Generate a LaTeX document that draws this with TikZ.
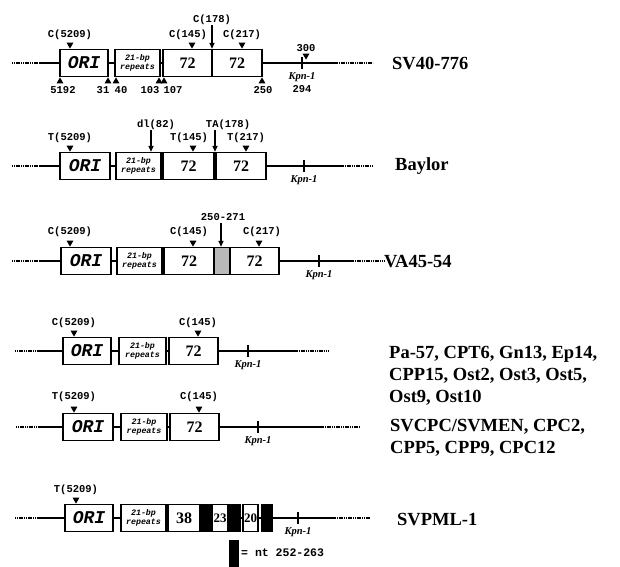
\documentclass[tikz,border=0pt]{standalone}
\usepackage{fontspec}
\setmainfont{Liberation Serif}
\setmonofont{Liberation Mono}
\usepackage{tikz}
\usetikzlibrary{positioning, arrows.meta, shapes.geometric}

\begin{document}
\begin{tikzpicture}[
        x=1pt, y=-1pt,
        seg/.style={draw, line width=1.3pt, fill=white, minimum width=#1, minimum height=27pt, inner sep=0pt},
        ori/.style={seg=#1, font=\ttfamily\bfseries\itshape\fontsize{18}{18}\selectfont},
        rep/.style={seg=#1, align=center, font=\ttfamily\bfseries\itshape\fontsize{8.3}{8.5}\selectfont},
        enh/.style={seg=#1, font=\bfseries\fontsize{16}{16}\selectfont},
        enhs/.style={seg=#1, font=\bfseries\fontsize{13}{13}\selectfont},
        blk/.style={seg=#1, fill=black},
        dots/.style={seg=#1, fill=gray!55},
        dna/.style={line width=1.3pt},
        flank/.style={line width=1.1pt, dash pattern=on 1.2pt off 0.6pt},
        mut/.style={font=\ttfamily\bfseries\fontsize{10.5}{10.5}\selectfont, inner sep=0pt},
        ntnum/.style={font=\ttfamily\bfseries\fontsize{10.5}{10.5}\selectfont, inner sep=0pt},
        kpn/.style={font=\bfseries\itshape\fontsize{10.5}{10.5}\selectfont, inner sep=0pt},
        tdown/.style={regular polygon, regular polygon sides=3, fill, inner sep=0pt, minimum size=8pt, rotate=180, anchor=corner 1},
        tup/.style={regular polygon, regular polygon sides=3, fill, inner sep=0pt, minimum size=8pt, anchor=corner 1},
        hit/.style={-{Triangle[length=6pt, width=5pt]}, line width=1.2pt},
        strain/.style={anchor=west, align=left, inner sep=0pt, font=\bfseries\fontsize{18.5}{22}\selectfont},
    ]
    \useasboundingbox (0,0) rectangle (620,566);

    % SV40-776
    \draw[flank] (12,63) -- (40,63);
    \draw[dna] (40,63) -- (337,63);
    \draw[flank] (337,63) -- (373,63);
    \node[ori=48pt] (aori) at (84,63) {ORI};
    \node[rep=45pt] (arep) at (137.5,63) {21-bp\\repeats};
    \node[enh=49pt] (aenha) at (187.5,63) {72};
    \node[enh=50pt] (aenhb) at (237,63) {72};
    \draw[dna] (302,57) -- (302,69);
    \node[kpn] (akpn) at (302,77) {Kpn-1};
    \node[ntnum] (a294) at (302,89) {294};
    \node[tdown] (at300) at (306,60) {};
    \node[ntnum] (a300) at (306,48) {300};
    \node[mut] (ac5209) at (70,35) {C(5209)};
    \node[tdown] (at5209) at (70,49) {};
    \node[mut] (ac145) at (188,35) {C(145)};
    \node[tdown] (at145) at (192,49) {};
    \node[mut] (ac217) at (242,35) {C(217)};
    \node[tdown] (at217) at (242,49) {};
    \node[mut] (ac178) at (212,20) {C(178)};
    \draw[hit] (ac178.south) -- (ac178.south |- aenhb.north);
    \node[tup] (at5192) at (60,77) {};
    \node[tup] (at31) at (108,77) {};
    \node[tup] (at40) at (116,77) {};
    \node[tup] (at103) at (159,77) {};
    \node[tup] (at107) at (164,77) {};
    \node[tup] (at250) at (262,77) {};
    \node[ntnum] (a5192) at (63,90) {5192};
    \node[ntnum] (a31) at (103,90) {31};
    \node[ntnum] (a40) at (121,90) {40};
    \node[ntnum] (a103) at (150,90) {103};
    \node[ntnum] (a107) at (173,90) {107};
    \node[ntnum] (a250) at (263,90) {250};
    \node[strain] (sv40) at (392,63) {SV40-776};

    % Baylor
    \draw[flank] (12,166) -- (40,166);
    \draw[dna] (40,166) -- (343,166);
    \draw[flank] (343,166) -- (373,166);
    \node[ori=50pt] (bori) at (85,166) {ORI};
    \node[rep=45pt] (brep) at (138.5,166) {21-bp\\repeats};
    \node[enh=51pt] (benha) at (188.5,166) {72};
    \node[enh=50pt] (benhb) at (241,166) {72};
    \draw[dna] (304,160) -- (304,172);
    \node[kpn] (bkpn) at (304,180) {Kpn-1};
    \node[mut] (bt5209) at (70,138) {T(5209)};
    \node[tdown] (btr5209) at (70,152) {};
    \node[mut] (bt145) at (189,138) {T(145)};
    \node[tdown] (btr145) at (193,152) {};
    \node[mut] (bt217) at (246,138) {T(217)};
    \node[tdown] (btr217) at (246,152) {};
    \node[mut] (bdl82) at (156,125) {dl(82)};
    \coordinate (bdl) at (151,130);
    \draw[hit] (bdl) -- (bdl |- brep.north);
    \node[mut] (bta178) at (228,125) {TA(178)};
    \coordinate (bta) at (215,130);
    \draw[hit] (bta) -- (bta |- benhb.north);
    \node[strain] (baylor) at (395,166) {Baylor};

    % VA45-54
    \draw[flank] (12,261) -- (40,261);
    \draw[dna] (40,261) -- (353,261);
    \draw[flank] (353,261) -- (384,261);
    \node[ori=50pt] (cori) at (86,261) {ORI};
    \node[rep=45pt] (crep) at (139.5,261) {21-bp\\repeats};
    \node[enh=50pt] (cenha) at (189,261) {72};
    \node[dots=16pt] (cdup) at (222,261) {};
    \node[enh=49pt] (cenhb) at (254.5,261) {72};
    \draw[dna] (319,255) -- (319,267);
    \node[kpn] (ckpn) at (319,275) {Kpn-1};
    \node[mut] (cc5209) at (70,232) {C(5209)};
    \node[tdown] (ctr5209) at (70,247) {};
    \node[mut] (cc145) at (189,232) {C(145)};
    \node[tdown] (ctr145) at (193,247) {};
    \node[mut] (cc217) at (262,232) {C(217)};
    \node[tdown] (ctr217) at (259,247) {};
    \node[mut] (cdel) at (223,217) {250-271};
    \coordinate (cd) at (221,223);
    \draw[hit] (cd) -- (cd |- cdup.north);
    \node[strain] (va45) at (384,262) {VA45-54};

    % Pa-57 group
    \draw[flank] (15,351) -- (40,351);
    \draw[dna] (40,351) -- (297,351);
    \draw[flank] (297,351) -- (328,351);
    \node[ori=48pt] (dori) at (87,351) {ORI};
    \node[rep=47pt] (drep) at (142.5,351) {21-bp\\repeats};
    \node[enh=49pt] (denh) at (193.5,351) {72};
    \draw[dna] (248,345) -- (248,357);
    \node[kpn] (dkpn) at (248,365) {Kpn-1};
    \node[mut] (dc5209) at (74,323) {C(5209)};
    \node[tdown] (dtr5209) at (74,337) {};
    \node[mut] (dc145) at (198,323) {C(145)};
    \node[tdown] (dtr145) at (198,337) {};
    \node[strain] (pa57) at (389,376) {Pa-57, CPT6, Gn13, Ep14,\\CPP15, Ost2, Ost3, Ost5,\\Ost9, Ost10};

    % SVCPC group
    \draw[flank] (16,427) -- (38,427);
    \draw[dna] (38,427) -- (323,427);
    \draw[flank] (323,427) -- (360,427);
    \node[ori=50pt] (eori) at (88,427) {ORI};
    \node[rep=46pt] (erep) at (144,427) {21-bp\\repeats};
    \node[enh=49pt] (eenh) at (194.5,427) {72};
    \draw[dna] (258,421) -- (258,433);
    \node[kpn] (ekpn) at (258,441) {Kpn-1};
    \node[mut] (et5209) at (74,397) {T(5209)};
    \node[tdown] (etr5209) at (74,413) {};
    \node[mut] (ec145) at (199,397) {C(145)};
    \node[tdown] (etr145) at (199,413) {};
    \node[strain] (svcpc) at (390,438) {SVCPC/SVMEN, CPC2,\\CPP5, CPP9, CPC12};

    % SVPML-1
    \draw[flank] (15,518) -- (40,518);
    \draw[dna] (40,518) -- (335,518);
    \draw[flank] (335,518) -- (370,518);
    \node[ori=48pt] (fori) at (89,518) {ORI};
    \node[rep=45pt] (frep) at (143.5,518) {21-bp\\repeats};
    \node[enh=32pt] (f38) at (184,518) {38};
    \node[blk=12pt] (fblka) at (206,518) {};
    \node[enhs=16pt] (f23) at (220,518) {23};
    \node[blk=12pt] (fblkb) at (234,518) {};
    \node[enhs=15pt] (f20) at (250.5,518) {20};
    \node[blk=10pt] (fblkc) at (267,518) {};
    \draw[dna] (298,512) -- (298,524);
    \node[kpn] (fkpn) at (298,532) {Kpn-1};
    \node[mut] (ft5209) at (76,490) {T(5209)};
    \node[tdown] (ftr5209) at (76,504) {};
    \node[strain] (svpml) at (397,520) {SVPML-1};

    % Key
    \node[blk=8pt, minimum height=25pt] (key) at (234,553.5) {};
    \node[ntnum, anchor=west, font=\ttfamily\bfseries\fontsize{11.5}{11.5}\selectfont] (keytext) at (241,553) {= nt 252-263};

\end{tikzpicture}
\end{document}
